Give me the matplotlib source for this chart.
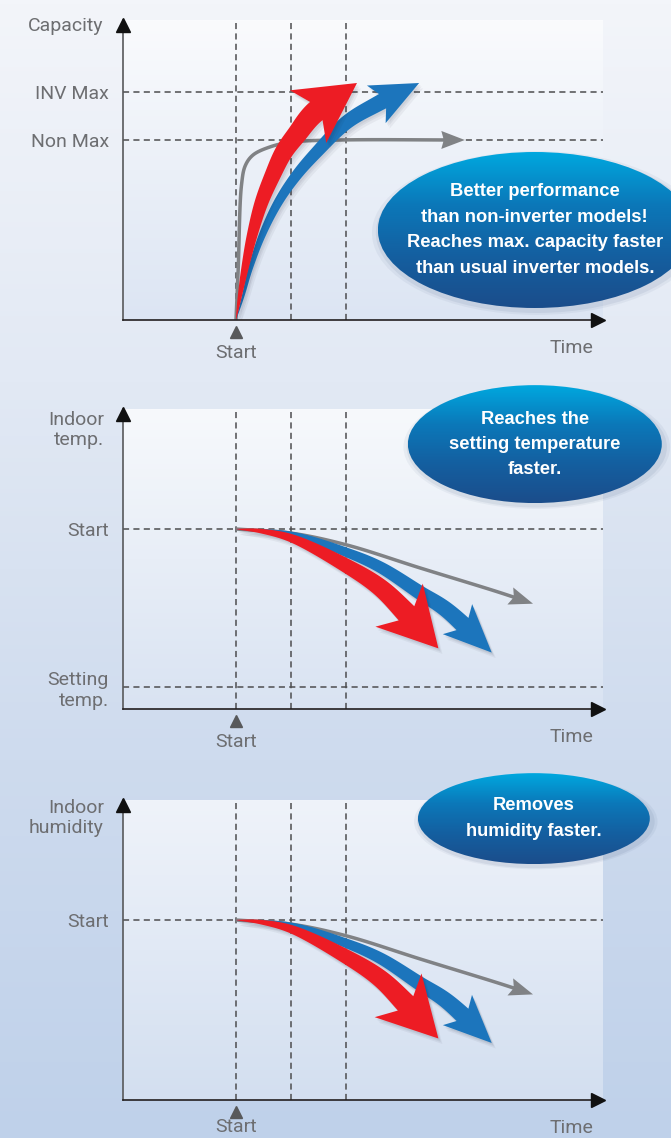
import numpy as np
import matplotlib.pyplot as plt
from matplotlib.patches import Ellipse
from matplotlib.colors import LinearSegmentedColormap

# ---- data (time: 0 = Start, dashed marks at 0, 1, 2) ----
time_marks = [0, 1, 2]

cap_levels = [0.76, 0.6]
cap_labels = ['INV Max', 'Non Max']
cap_red_t = [0.0, 0.07, 0.16, 0.29, 0.46, 0.66, 0.87, 1.11, 1.42, 2.20]
cap_red_v = [0.0, 0.08, 0.17, 0.28, 0.39, 0.48, 0.56, 0.62, 0.69, 0.79]
cap_blue_t = [0.0, 0.13, 0.26, 0.47, 0.76, 1.09, 1.47, 2.02, 2.57, 3.33]
cap_blue_v = [0.0, 0.08, 0.17, 0.28, 0.39, 0.48, 0.56, 0.66, 0.72, 0.79]
cap_gray_t = [0.0, 0.04, 0.10, 0.17, 0.31, 0.62, 1.01, 1.89, 4.16]
cap_gray_v = [0.0, 0.17, 0.45, 0.515, 0.55, 0.577, 0.593, 0.6, 0.6]

temp_levels = [0.6, 0.073]
temp_labels = ['Start', 'Setting\ntemp.']
temp_red_t = [0.0, 0.45, 1.01, 2.01, 2.62, 3.10, 3.68]
temp_red_v = [0.6, 0.593, 0.569, 0.477, 0.405, 0.319, 0.202]
temp_blue_t = [0.0, 1.01, 2.01, 2.62, 3.35, 3.83, 4.65]
temp_blue_v = [0.6, 0.582, 0.522, 0.473, 0.387, 0.33, 0.188]
temp_gray_t = [0.0, 1.01, 2.01, 3.35, 4.80, 5.40]
temp_gray_v = [0.6, 0.586, 0.547, 0.47, 0.388, 0.351]

hum_levels = [0.6]
hum_labels = ['Start']
hum_red_t = [0.0, 0.45, 1.01, 2.01, 2.62, 3.10, 3.68]
hum_red_v = [0.6, 0.593, 0.569, 0.477, 0.405, 0.319, 0.205]
hum_blue_t = [0.0, 1.01, 2.01, 2.62, 3.35, 3.83, 4.65]
hum_blue_v = [0.6, 0.582, 0.522, 0.473, 0.387, 0.33, 0.19]
hum_gray_t = [0.0, 1.01, 2.01, 3.35, 4.80, 5.40]
hum_gray_v = [0.6, 0.586, 0.547, 0.47, 0.388, 0.352]

# ---- style ----
W, H = 671, 1138
LABEL_FONT = ['Roboto', 'DejaVu Sans']
BOLD_FONT = ['Liberation Sans', 'DejaVu Sans']
LABEL_COL = '#6d6e71'
RED, BLUE, GRAY = '#ed1c24', '#1c75bc', '#808285'

bg_cmap = LinearSegmentedColormap.from_list('bg', ['#f3f5fa', '#e2e9f4', '#cedbee', '#bfd1ea'])
inner_cmaps = [
    LinearSegmentedColormap.from_list('i1', ['#fafbfd', '#dce5f3']),
    LinearSegmentedColormap.from_list('i2', ['#f7f9fc', '#d9e3f2']),
    LinearSegmentedColormap.from_list('i3', ['#eff3fa', '#d3dff0']),
]
bubble_cmap = LinearSegmentedColormap.from_list('bub', ['#00a8df', '#0b78b9', '#145fa0', '#1b4d8b'])

fig = plt.figure(figsize=(W / 100, H / 100), dpi=100)
bg = fig.add_axes([0, 0, 1, 1], zorder=-1)
bg.imshow(np.linspace(0, 1, 256)[:, None], cmap=bg_cmap, aspect='auto', extent=[0, 1, 0, 1])
bg.axis('off')


def smooth(P, n=30):
    # centripetal catmull-rom through the points (pixel space)
    P = np.vstack([2 * P[0] - P[1], P, 2 * P[-1] - P[-2]])
    out = []
    u = np.linspace(0, 1, n, endpoint=False)[:, None]
    for i in range(1, len(P) - 2):
        p0, p1, p2, p3 = P[i - 1], P[i], P[i + 1], P[i + 2]
        t0 = 0.0
        t1 = t0 + np.hypot(*(p1 - p0)) ** 0.5
        t2 = t1 + np.hypot(*(p2 - p1)) ** 0.5
        t3 = t2 + np.hypot(*(p3 - p2)) ** 0.5
        t = t1 + (t2 - t1) * u
        a1 = (t1 - t) / (t1 - t0) * p0 + (t - t0) / (t1 - t0) * p1
        a2 = (t2 - t) / (t2 - t1) * p1 + (t - t1) / (t2 - t1) * p2
        a3 = (t3 - t) / (t3 - t2) * p2 + (t - t2) / (t3 - t2) * p3
        b1 = (t2 - t) / (t2 - t0) * a1 + (t - t0) / (t2 - t0) * a2
        b2 = (t3 - t) / (t3 - t1) * a2 + (t - t1) / (t3 - t1) * a3
        out.append((t2 - t) / (t2 - t1) * b1 + (t - t1) / (t2 - t1) * b2)
    out.append(P[-2][None])
    return np.vstack(out)


def curved_arrow(ax, xs, ys, color, body_w, head_len, head_hw, sweep=0.0, taper=0.75,
                 zorder=3, shadow=False):
    pts = ax.transData.transform(np.column_stack([xs, ys]))
    c = smooth(pts)
    s = np.concatenate([[0], np.cumsum(np.hypot(*np.diff(c, axis=0).T))])
    tip = c[-1]
    dist = np.hypot(*(c - tip).T)
    ib = np.where(dist >= head_len)[0][-1]
    body, sb = c[:ib + 1], s[:ib + 1]
    w = body_w * (sb / sb[-1]) ** taper
    tang = np.gradient(body, axis=0)
    tang /= np.hypot(*tang.T)[:, None]
    nrm = np.column_stack([-tang[:, 1], tang[:, 0]])
    left = body + nrm * w[:, None] / 2
    right = body - nrm * w[:, None] / 2
    B = body[-1]
    d = (tip - B) / np.hypot(*(tip - B))
    nb = np.array([-d[1], d[0]])
    poly = np.vstack([left[:-1], B + nb * w[-1] / 2, B + nb * head_hw - d * sweep, tip,
                      B - nb * head_hw - d * sweep, B - nb * w[-1] / 2, right[-2::-1]])
    inv = ax.transData.inverted()
    if shadow:
        for off, a in [((2.5, -3.5), 0.06), ((4, -5.5), 0.05), ((1.5, -2), 0.06)]:
            sp = inv.transform(poly + np.array(off))
            ax.fill(sp[:, 0], sp[:, 1], color='#1a1a2e', alpha=a, lw=0, zorder=zorder - 0.1)
    dp = inv.transform(poly)
    ax.fill(dp[:, 0], dp[:, 1], color=color, lw=0, zorder=zorder)


def bubble(ax, cx, cy, w, h, text, fs, ls):
    for k, a in [(1.05, 0.05), (1.025, 0.07)]:
        ax.add_patch(Ellipse((cx + 0.004, cy - 0.01), w * k, h * k, transform=ax.transAxes,
                             fc='#1a3560', ec='none', alpha=a, clip_on=False, zorder=6))
    ell = Ellipse((cx, cy), w, h, transform=ax.transAxes, fc='none', ec='none',
                  clip_on=False, zorder=7)
    ax.add_patch(ell)
    im = ax.imshow(np.linspace(0, 1, 256)[:, None], cmap=bubble_cmap,
                   extent=[cx - w / 2, cx + w / 2, cy - h / 2, cy + h / 2],
                   transform=ax.transAxes, aspect='auto', zorder=7)
    im.set_clip_box(fig.bbox)
    im.set_clip_path(ell)
    ax.text(cx, cy, text, transform=ax.transAxes, ha='center', va='center', color='white',
            fontsize=fs, fontweight='bold', family=BOLD_FONT, linespacing=ls, zorder=8)


def panel(bottom_px, cmap, ylabel, ylabel_y, levels, labels, xpad=17):
    ax = fig.add_axes([123 / W, (H - bottom_px) / H, 480 / W, 300 / H])
    ax.set_facecolor('none')
    ax.set_xlim(-113 / 55, 367 / 55)
    ax.set_ylim(0, 1)
    ax.imshow(np.linspace(0, 1, 256)[:, None], cmap=cmap, extent=[0, 1, 0, 1],
              transform=ax.transAxes, aspect='auto', zorder=0)
    for sp in ['top', 'right']:
        ax.spines[sp].set_visible(False)
    ax.spines['left'].set_color('#58595b')
    ax.spines['left'].set_linewidth(1.2)
    ax.spines['bottom'].set_color('#231f20')
    ax.spines['bottom'].set_linewidth(1.2)
    ax.spines['left'].set_zorder(5)
    ax.spines['bottom'].set_zorder(5)
    ax.plot(0.99, 0, '>', color='#111111', ms=10, transform=ax.get_yaxis_transform(),
            clip_on=False, zorder=6)
    ax.plot(0, 0.985, '^', color='#111111', ms=10, transform=ax.transAxes,
            clip_on=False, zorder=6)
    for t in time_marks:
        ax.axvline(t, color='#4d4d4f', lw=1.1, dashes=(4, 2.8), zorder=1)
    for lv in levels:
        ax.axhline(lv, color='#4d4d4f', lw=1.1, dashes=(4, 2.8), zorder=1)
    ax.set_yticks(levels)
    ax.set_yticklabels(labels)
    ax.set_xticks([time_marks[0]])
    ax.set_xticklabels(['Start'])
    ax.tick_params(axis='y', length=0, pad=10, labelsize=14, labelcolor=LABEL_COL)
    ax.tick_params(axis='x', length=0, pad=xpad, labelsize=14, labelcolor=LABEL_COL)
    for lab in ax.get_yticklabels() + ax.get_xticklabels():
        lab.set_family(LABEL_FONT)
    ax.plot([time_marks[0]], [-0.04], '^', color='#58595b', ms=8,
            transform=ax.get_xaxis_transform(), clip_on=False)
    ax.set_xlabel('Time', fontsize=14, color=LABEL_COL, family=LABEL_FONT)
    ax.xaxis.label.set_ha('center')
    ax.xaxis.label.set_va('center')
    ax.xaxis.set_label_coords(0.935, -0.093)
    ax.set_ylabel(ylabel, rotation=0, fontsize=14, color=LABEL_COL, family=LABEL_FONT,
                  ha='right', va='center')
    ax.yaxis.set_label_coords(-0.04, ylabel_y)
    return ax


# panel 1: capacity
ax1 = panel(320, inner_cmaps[0], 'Capacity', 0.98, cap_levels, cap_labels)
curved_arrow(ax1, cap_gray_t, cap_gray_v, GRAY, 3.5, 19, 9, sweep=2, taper=0, zorder=2)
curved_arrow(ax1, cap_blue_t, cap_blue_v, BLUE, 16, 40, 21, sweep=7, zorder=3, shadow=True)
curved_arrow(ax1, cap_red_t, cap_red_v, RED, 22, 48, 32, sweep=10, zorder=4, shadow=True)
bubble(ax1, 0.858, 0.30, 0.654, 0.52,
       'Better performance\nthan non-inverter models!\nReaches max. capacity faster\n'
       'than usual inverter models.', 13.2, 1.66)

# panel 2: indoor temperature
ax2 = panel(709, inner_cmaps[1], 'Indoor\ntemp.', 0.93, temp_levels, temp_labels)
curved_arrow(ax2, temp_gray_t, temp_gray_v, GRAY, 3.5, 20, 9, sweep=3, taper=0, zorder=2)
curved_arrow(ax2, temp_blue_t, temp_blue_v, BLUE, 17, 40, 21, sweep=7, zorder=3, shadow=True)
curved_arrow(ax2, temp_red_t, temp_red_v, RED, 21, 47, 32, sweep=11, zorder=4, shadow=True)
bubble(ax2, 0.858, 0.883, 0.529, 0.393,
       'Reaches the\nsetting temperature\nfaster.', 13.2, 1.62)

# panel 3: indoor humidity
ax3 = panel(1100, inner_cmaps[2], 'Indoor\nhumidity', 0.94, hum_levels, hum_labels, xpad=13)
curved_arrow(ax3, hum_gray_t, hum_gray_v, GRAY, 3.5, 20, 9, sweep=3, taper=0, zorder=2)
curved_arrow(ax3, hum_blue_t, hum_blue_v, BLUE, 17, 40, 21, sweep=7, zorder=3, shadow=True)
curved_arrow(ax3, hum_red_t, hum_red_v, RED, 21, 47, 32, sweep=11, zorder=4, shadow=True)
bubble(ax3, 0.856, 0.938, 0.483, 0.303, 'Removes\nhumidity faster.', 13.2, 1.65)

fig.savefig('out.png', dpi=100)
